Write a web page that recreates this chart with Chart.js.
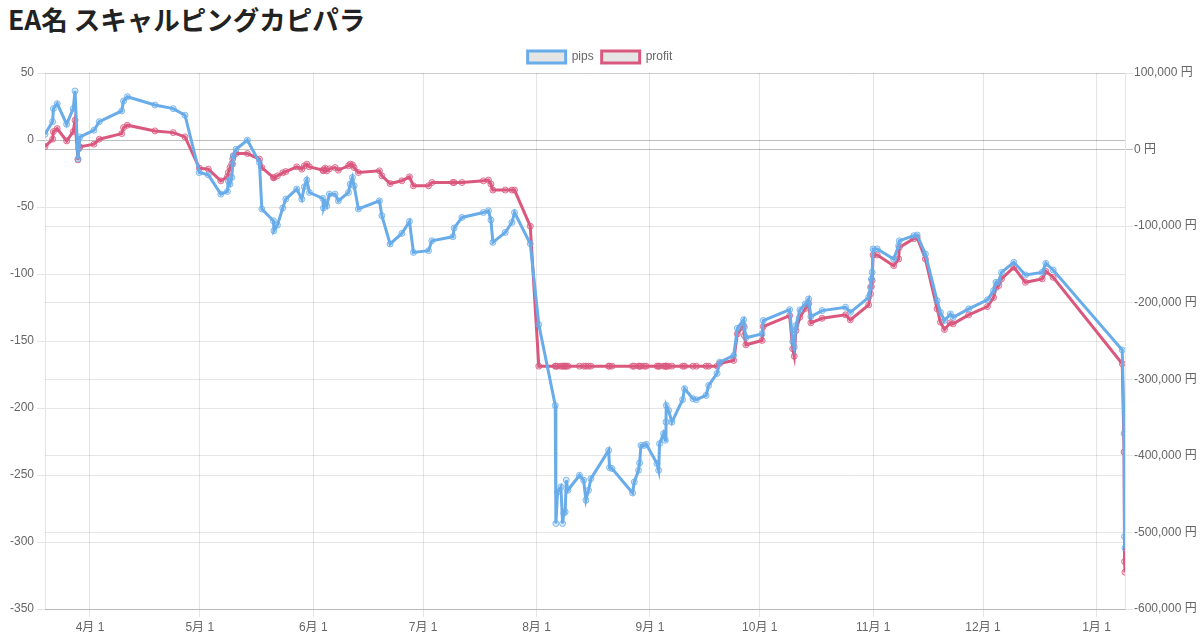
<!DOCTYPE html>
<html><head><meta charset="utf-8">
<script src="https://cdn.jsdelivr.net/npm/chart.js@4"></script>
<style>
html,body{margin:0;padding:0;background:#fff;overflow:hidden;}
h1{margin:0;position:absolute;left:8px;top:0;font:bold 26.5px 'Noto Sans CJK JP',sans-serif;color:#222;line-height:37px;}
#wrap{position:absolute;left:0;top:43px;width:1200px;height:590px;}
</style></head><body>
<h1>EA名 スキャルピングカピパラ</h1>
<div id="wrap"><canvas id="c"></canvas></div>
<script>
const dates = [
'2020-03-19 17:00','2020-03-21 19:00','2020-03-22 00:00','2020-03-23 01:00','2020-03-25 15:00','2020-03-27 10:00','2020-03-27 22:00','2020-03-28 17:00','2020-03-28 23:00','2020-03-29 06:00',
'2020-04-02 02:00','2020-04-03 13:00','2020-04-09 16:00','2020-04-10 04:00','2020-04-11 05:00','2020-04-18 18:00','2020-04-23 18:00','2020-04-26 23:00','2020-04-30 21:00','2020-05-03 08:00',
'2020-05-06 18:00','2020-05-08 13:00','2020-05-08 19:00','2020-05-09 06:00','2020-05-09 18:00','2020-05-10 00:00','2020-05-10 04:00','2020-05-10 22:00','2020-05-14 00:00','2020-05-17 07:00',
'2020-05-17 23:00','2020-05-21 03:00','2020-05-21 06:00','2020-05-22 05:00','2020-05-23 16:00','2020-05-24 12:00','2020-05-27 12:00','2020-05-28 21:00','2020-05-29 14:00','2020-05-30 06:00',
'2020-05-30 23:00','2020-06-03 15:00','2020-06-03 19:00','2020-06-04 06:00','2020-06-04 17:00','2020-06-05 10:00','2020-06-06 23:00','2020-06-07 21:00','2020-06-10 15:00','2020-06-11 02:00',
'2020-06-11 17:00','2020-06-12 04:00','2020-06-13 08:00','2020-06-19 02:00','2020-06-19 18:00','2020-06-22 00:00','2020-06-25 05:00','2020-06-27 07:00','2020-06-28 09:00','2020-07-02 12:00',
'2020-07-03 10:00','2020-07-09 04:00','2020-07-09 12:00','2020-07-11 15:00','2020-07-17 12:00','2020-07-18 21:00','2020-07-19 13:00','2020-07-20 02:00','2020-07-23 11:00','2020-07-25 07:00',
'2020-07-26 00:00','2020-07-30 07:00','2020-08-01 15:00','2020-08-06 03:00','2020-08-06 07:00','2020-08-06 18:00','2020-08-07 16:00','2020-08-08 03:00','2020-08-08 11:00','2020-08-08 20:00',
'2020-08-09 03:00','2020-08-09 14:00','2020-08-12 18:00','2020-08-13 21:00','2020-08-14 12:00','2020-08-15 05:00','2020-08-15 21:00','2020-08-20 17:00','2020-08-20 23:00','2020-08-21 15:00',
'2020-08-27 06:00','2020-08-27 17:00','2020-08-28 21:00','2020-08-29 04:00','2020-08-29 13:00','2020-08-30 11:00','2020-08-31 00:00','2020-09-02 22:00','2020-09-03 09:00','2020-09-03 15:00',
'2020-09-04 17:00','2020-09-05 05:00','2020-09-05 09:00','2020-09-05 11:00','2020-09-06 02:00','2020-09-07 00:00','2020-09-09 22:00','2020-09-10 11:00','2020-09-12 18:00','2020-09-13 16:00',
'2020-09-16 08:00','2020-09-17 01:00','2020-09-19 08:00','2020-09-20 01:00','2020-09-23 21:00','2020-09-24 21:00','2020-09-26 14:00','2020-09-26 19:00','2020-09-27 05:00','2020-10-01 15:00',
'2020-10-01 23:00','2020-10-09 04:00','2020-10-10 00:00','2020-10-10 10:00','2020-10-10 21:00','2020-10-11 23:00','2020-10-13 11:00','2020-10-14 09:00','2020-10-14 23:00','2020-10-18 01:00',
'2020-10-24 10:00','2020-10-25 18:00','2020-10-30 18:00','2020-10-31 06:00','2020-10-31 12:00','2020-10-31 17:00','2020-10-31 23:00','2020-11-02 02:00','2020-11-06 14:00','2020-11-07 23:00',
'2020-11-08 03:00','2020-11-12 02:00','2020-11-13 00:00','2020-11-15 06:00','2020-11-18 11:00','2020-11-19 09:00','2020-11-20 11:00','2020-11-22 02:00','2020-11-22 20:00','2020-11-27 02:00',
'2020-12-02 05:00','2020-12-03 21:00','2020-12-04 13:00','2020-12-05 07:00','2020-12-06 01:00','2020-12-09 10:00','2020-12-12 14:00','2020-12-17 04:00','2020-12-18 04:00','2020-12-20 04:00',
'2021-01-08 01:00','2021-01-08 13:00','2021-01-08 16:00','2021-01-08 19:00'
];
const pips = [
4.3,13.7,23.4,27.1,11.8,23.4,36.6,-14.1,-6.6,2.3,
7.3,13.7,21.7,29.1,32.3,26.1,23.4,18.5,-24.3,-26.0,
-40.4,-38.4,-30.5,-32.9,-28.0,-18.0,-11.8,-6.9,-0.1,-16.8,
-51.5,-60.3,-67.7,-63.5,-50.8,-44.1,-36.6,-44.1,-34.9,-29.9,
-39.2,-43.6,-50.8,-46.6,-49.1,-40.4,-40.4,-45.4,-39.2,-32.9,
-28.0,-34.2,-51.5,-45.4,-56.5,-77.6,-69.7,-60.8,-83.9,-82.6,
-75.2,-72.2,-65.7,-57.8,-54.1,-52.8,-59.7,-76.4,-69.0,-61.5,
-54.1,-77.4,-137.7,-198.1,-286.2,-262.6,-258.9,-286.2,-278.5,-277.5,
-253.9,-261.4,-250.2,-253.9,-268.8,-261.4,-252.7,-231.6,-244.5,-245.2,
-263.4,-255.2,-246.5,-241.0,-227.9,-227.9,-227.1,-241.5,-246.5,-226.6,
-219.1,-224.1,-210.5,-198.1,-201.8,-210.5,-193.8,-185.6,-193.1,-193.8,
-190.6,-183.2,-174.2,-165.8,-160.8,-140.5,-134.2,-139.7,-147.6,-144.7,
-134.7,-126.6,-150.4,-154.6,-138.5,-126.8,-122.3,-118.6,-131.8,-127.3,
-124.8,-128.6,-117.4,-109.9,-103.7,-98.8,-81.3,-81.3,-88.8,-78.9,
-75.2,-71.4,-70.9,-85.1,-119.9,-128.6,-134.7,-129.8,-132.3,-126.0,
-119.3,-112.4,-106.2,-106.2,-98.8,-91.3,-100.7,-98.8,-92.1,-97.0,
-156.7,-219.1,-296.0,-304.5
];
const profit = [
3910,13560,23460,27370,11340,23460,38320,-13430,2220,3520,
7040,13560,20860,28680,31810,24380,22160,16550,-24250,-25550,
-40800,-35590,-29980,-23460,-18640,-12120,-8210,-5210,-5210,-12510,
-23460,-36500,-36890,-34280,-30370,-28680,-22550,-25550,-21250,-19030,
-22550,-26850,-27770,-24250,-27770,-25160,-23460,-26850,-21250,-19030,
-19940,-23460,-29980,-27770,-34280,-44320,-40800,-35590,-47320,-47320,
-43020,-43020,-43020,-43020,-40800,-39890,-45100,-52920,-52920,-52920,
-52920,-100110,-282860,-282860,-282860,-282860,-282860,-282860,-282860,-282860,
-282860,-282860,-282860,-282860,-282860,-282860,-282860,-282860,-282860,-282860,
-282860,-282860,-282860,-282860,-282860,-282860,-282860,-282860,-282860,-282860,
-282860,-282860,-282860,-282860,-282860,-282860,-282860,-282860,-282860,-282860,
-282860,-282860,-282860,-279340,-275430,-240630,-229810,-242840,-254970,-249360,
-231110,-216770,-260180,-269830,-236330,-218990,-207650,-201130,-226290,-220290,
-215860,-222380,-202830,-188490,-178970,-171150,-137650,-137650,-151600,-142860,
-127740,-116400,-114710,-142860,-208040,-225510,-235020,-226290,-227590,-215860,
-205040,-193310,-180270,-177670,-168930,-153810,-173370,-168930,-159030,-166850,
-279730,-394960,-538000,-552000
];
const monthTicks = ['2020-04-01','2020-05-01','2020-06-01','2020-07-01','2020-08-01','2020-09-01','2020-10-01','2020-11-01','2020-12-01','2021-01-01'];
const monthLabels = ['4月 1','5月 1','6月 1','7月 1','8月 1','9月 1','10月 1','11月 1','12月 1','1月 1'];
const seriesLabels = ['pips','profit'];

const FONT = "'Helvetica Neue', 'Liberation Sans', Arial, 'Noto Sans CJK JP', sans-serif";
Chart.defaults.font.family = FONT;
Chart.defaults.font.size = 12;
Chart.defaults.color = '#666';

const toTs = s => { const [d,t] = s.split(' '); const [y,m,dd] = d.split('-').map(Number); const h = t ? Number(t.split(':')[0]) : 0; return Date.UTC(y, m-1, dd, h); };
const xs = dates.map(toTs);
const tickTs = monthTicks.map(toTs);

const BLUE = 'rgb(104,172,234)';
const RED = 'rgb(218,88,126)';
const gridColor = c => (c.tick && c.tick.value === 0) ? 'rgba(0,0,0,0.25)' : 'rgba(0,0,0,0.1)';

new Chart(document.getElementById('c'), {
  type: 'line',
  data: { datasets: [
    { label: seriesLabels[0], yAxisID: 'yPips', data: xs.map((x,i)=>({x, y: pips[i]})),
      borderColor: BLUE, backgroundColor: 'rgba(0,0,0,0.1)', borderWidth: 3, tension: 0, fill: false,
      pointRadius: 3, pointBorderWidth: 1, pointBackgroundColor: 'rgba(104,172,234,0.25)', pointBorderColor: 'rgba(104,172,234,0.8)' },
    { label: seriesLabels[1], yAxisID: 'yProfit', data: xs.map((x,i)=>({x, y: profit[i]})),
      borderColor: RED, backgroundColor: 'rgba(0,0,0,0.1)', borderWidth: 3, tension: 0, fill: false,
      pointRadius: 3, pointBorderWidth: 1, pointBackgroundColor: 'rgba(218,88,126,0.25)', pointBorderColor: 'rgba(218,88,126,0.8)' }
  ]},
  options: {
    responsive: true, maintainAspectRatio: false, animation: false,
    plugins: {
      legend: { labels: { boxWidth: 38, boxHeight: 12, padding: 8, color: '#666' } },
      tooltip: { enabled: false }
    },
    scales: {
      x: { type: 'linear', min: xs[0], max: xs[xs.length-1],
        afterBuildTicks: axis => { axis.ticks = tickTs.map(v => ({ value: v })); },
        afterFit: axis => { axis.height = 24; },
        ticks: { callback: (v, i) => monthLabels[i], maxRotation: 0, autoSkip: false },
        grid: { color: 'rgba(0,0,0,0.1)' } },
      yPips: { position: 'left', min: -350, max: 50, ticks: { stepSize: 50 }, grid: { color: gridColor },
        afterFit: axis => { axis.width = 45; } },
      yProfit: { position: 'right', min: -600000, max: 100000,
        ticks: { stepSize: 100000, padding: 1, callback: v => v.toLocaleString('en-US') + ' 円' }, grid: { color: gridColor },
        afterFit: axis => { axis.width = 75; } }
    }
  }
});
</script>
</body></html>
